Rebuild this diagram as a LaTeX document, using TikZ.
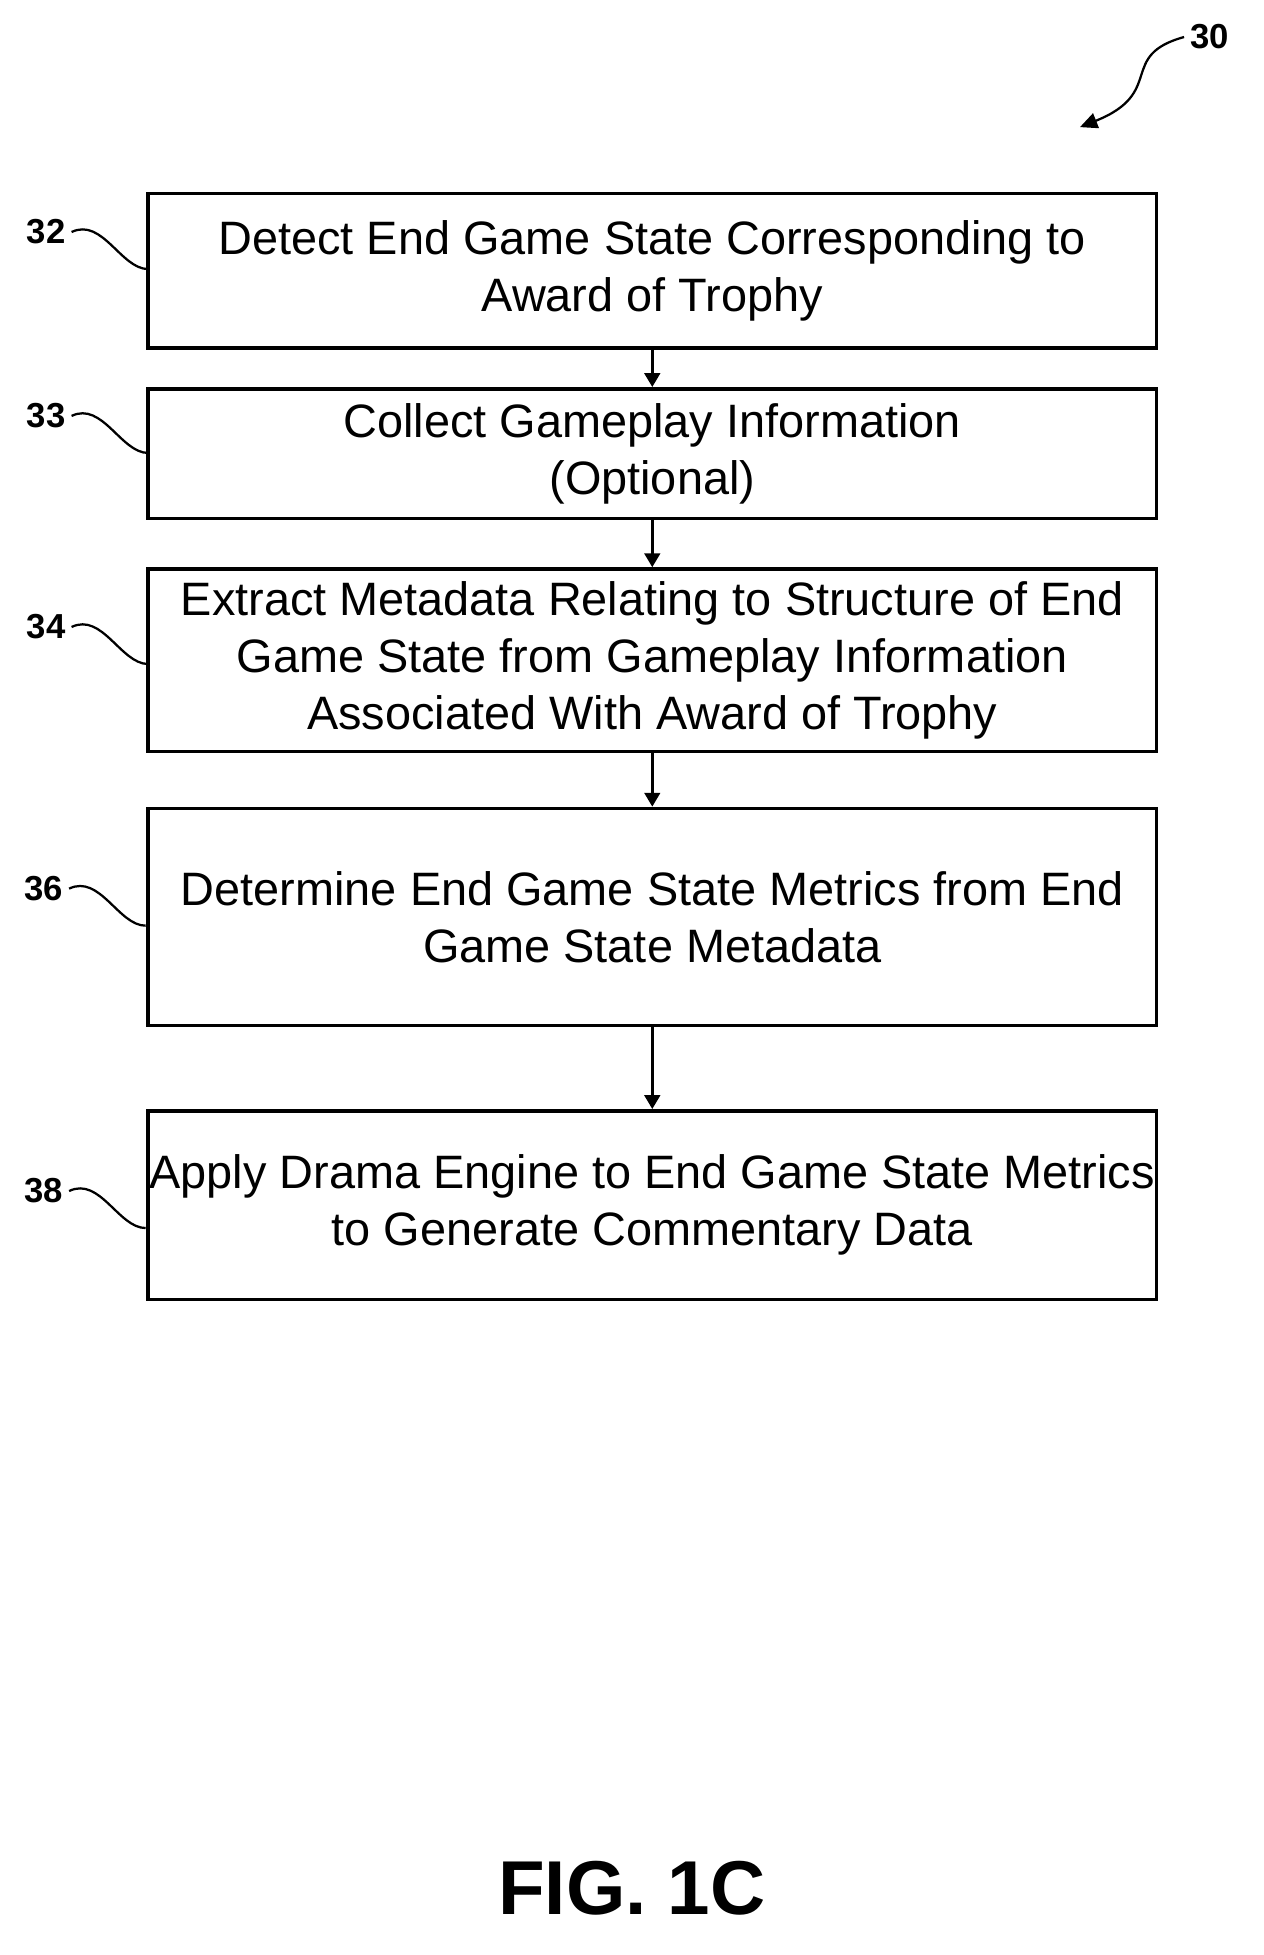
\documentclass[tikz,border=0pt]{standalone}
\usepackage{fontspec}
\setmainfont{Liberation Sans}
\usetikzlibrary{arrows.meta}
\tikzset{
  stepbox/.style={draw, line width=2pt, align=center, inner sep=0pt,
    minimum width=20.425cm, font=\fontsize{27}{33}\selectfont},
  reflabel/.style={anchor=east, font=\fontsize{20}{24}\selectfont\bfseries},
  flow/.style={-{Triangle[length=8pt,width=9pt]}, line width=1.6pt},
  squig/.style={line width=1.3pt}
}
\begin{document}
\begin{tikzpicture}[x=0.025cm, y=-0.025cm]
  \useasboundingbox (0,0) rectangle (1024,1584);
  % Boxes
  \node[stepbox, minimum height=3.125cm] (b32) at (528.5,219.5) {Detect End Game State Corresponding to\\Award of Trophy};
  \node[stepbox, minimum height=2.625cm] (b33) at (528.5,367.5) {Collect Gameplay Information\\(Optional)};
  \node[stepbox, minimum height=3.7cm] (b34) at (528.5,535) {Extract Metadata Relating to Structure of End\\Game State from Gameplay Information\\Associated With Award of Trophy};
  \node[stepbox, minimum height=4.4cm] (b36) at (528.5,743) {Determine End Game State Metrics from End\\Game State Metadata};
  \node[stepbox, minimum height=3.825cm] (b38) at (528.5,976.5) {Apply Drama Engine to End Game State Metrics\\to Generate Commentary Data};

  % Arrows between boxes
  \draw[flow] (b32) -- (b33);
  \draw[flow] (b33) -- (b34);
  \draw[flow] (b34) -- (b36);
  \draw[flow] (b36) -- (b38);

  % Reference labels
  \node[reflabel] (l32) at (58,188) {32};
  \node[reflabel] (l33) at (58,337) {33};
  \node[reflabel] (l34) at (58,508) {34};
  \node[reflabel] (l36) at (56,720) {36};
  \node[reflabel] (l38) at (56,965) {38};
  \foreach \n in {32,33,34,36,38}
    \draw[squig] (l\n.east) .. controls +(25,-12) and +(-22,0) .. ++(62,30);

  % Figure reference
  \node[font=\fontsize{20}{24}\selectfont\bfseries] (l30) at (980,30) {30};
  \coordinate (t30) at (875,103);
  \draw[squig, -{Triangle[length=10pt,width=9pt]}] (l30.west) .. controls (905,45) and (945,75) .. (t30);

  \node[font=\fontsize{44}{50}\selectfont\bfseries] (fig) at (512,1530) {FIG. 1C};
\end{tikzpicture}
\end{document}
